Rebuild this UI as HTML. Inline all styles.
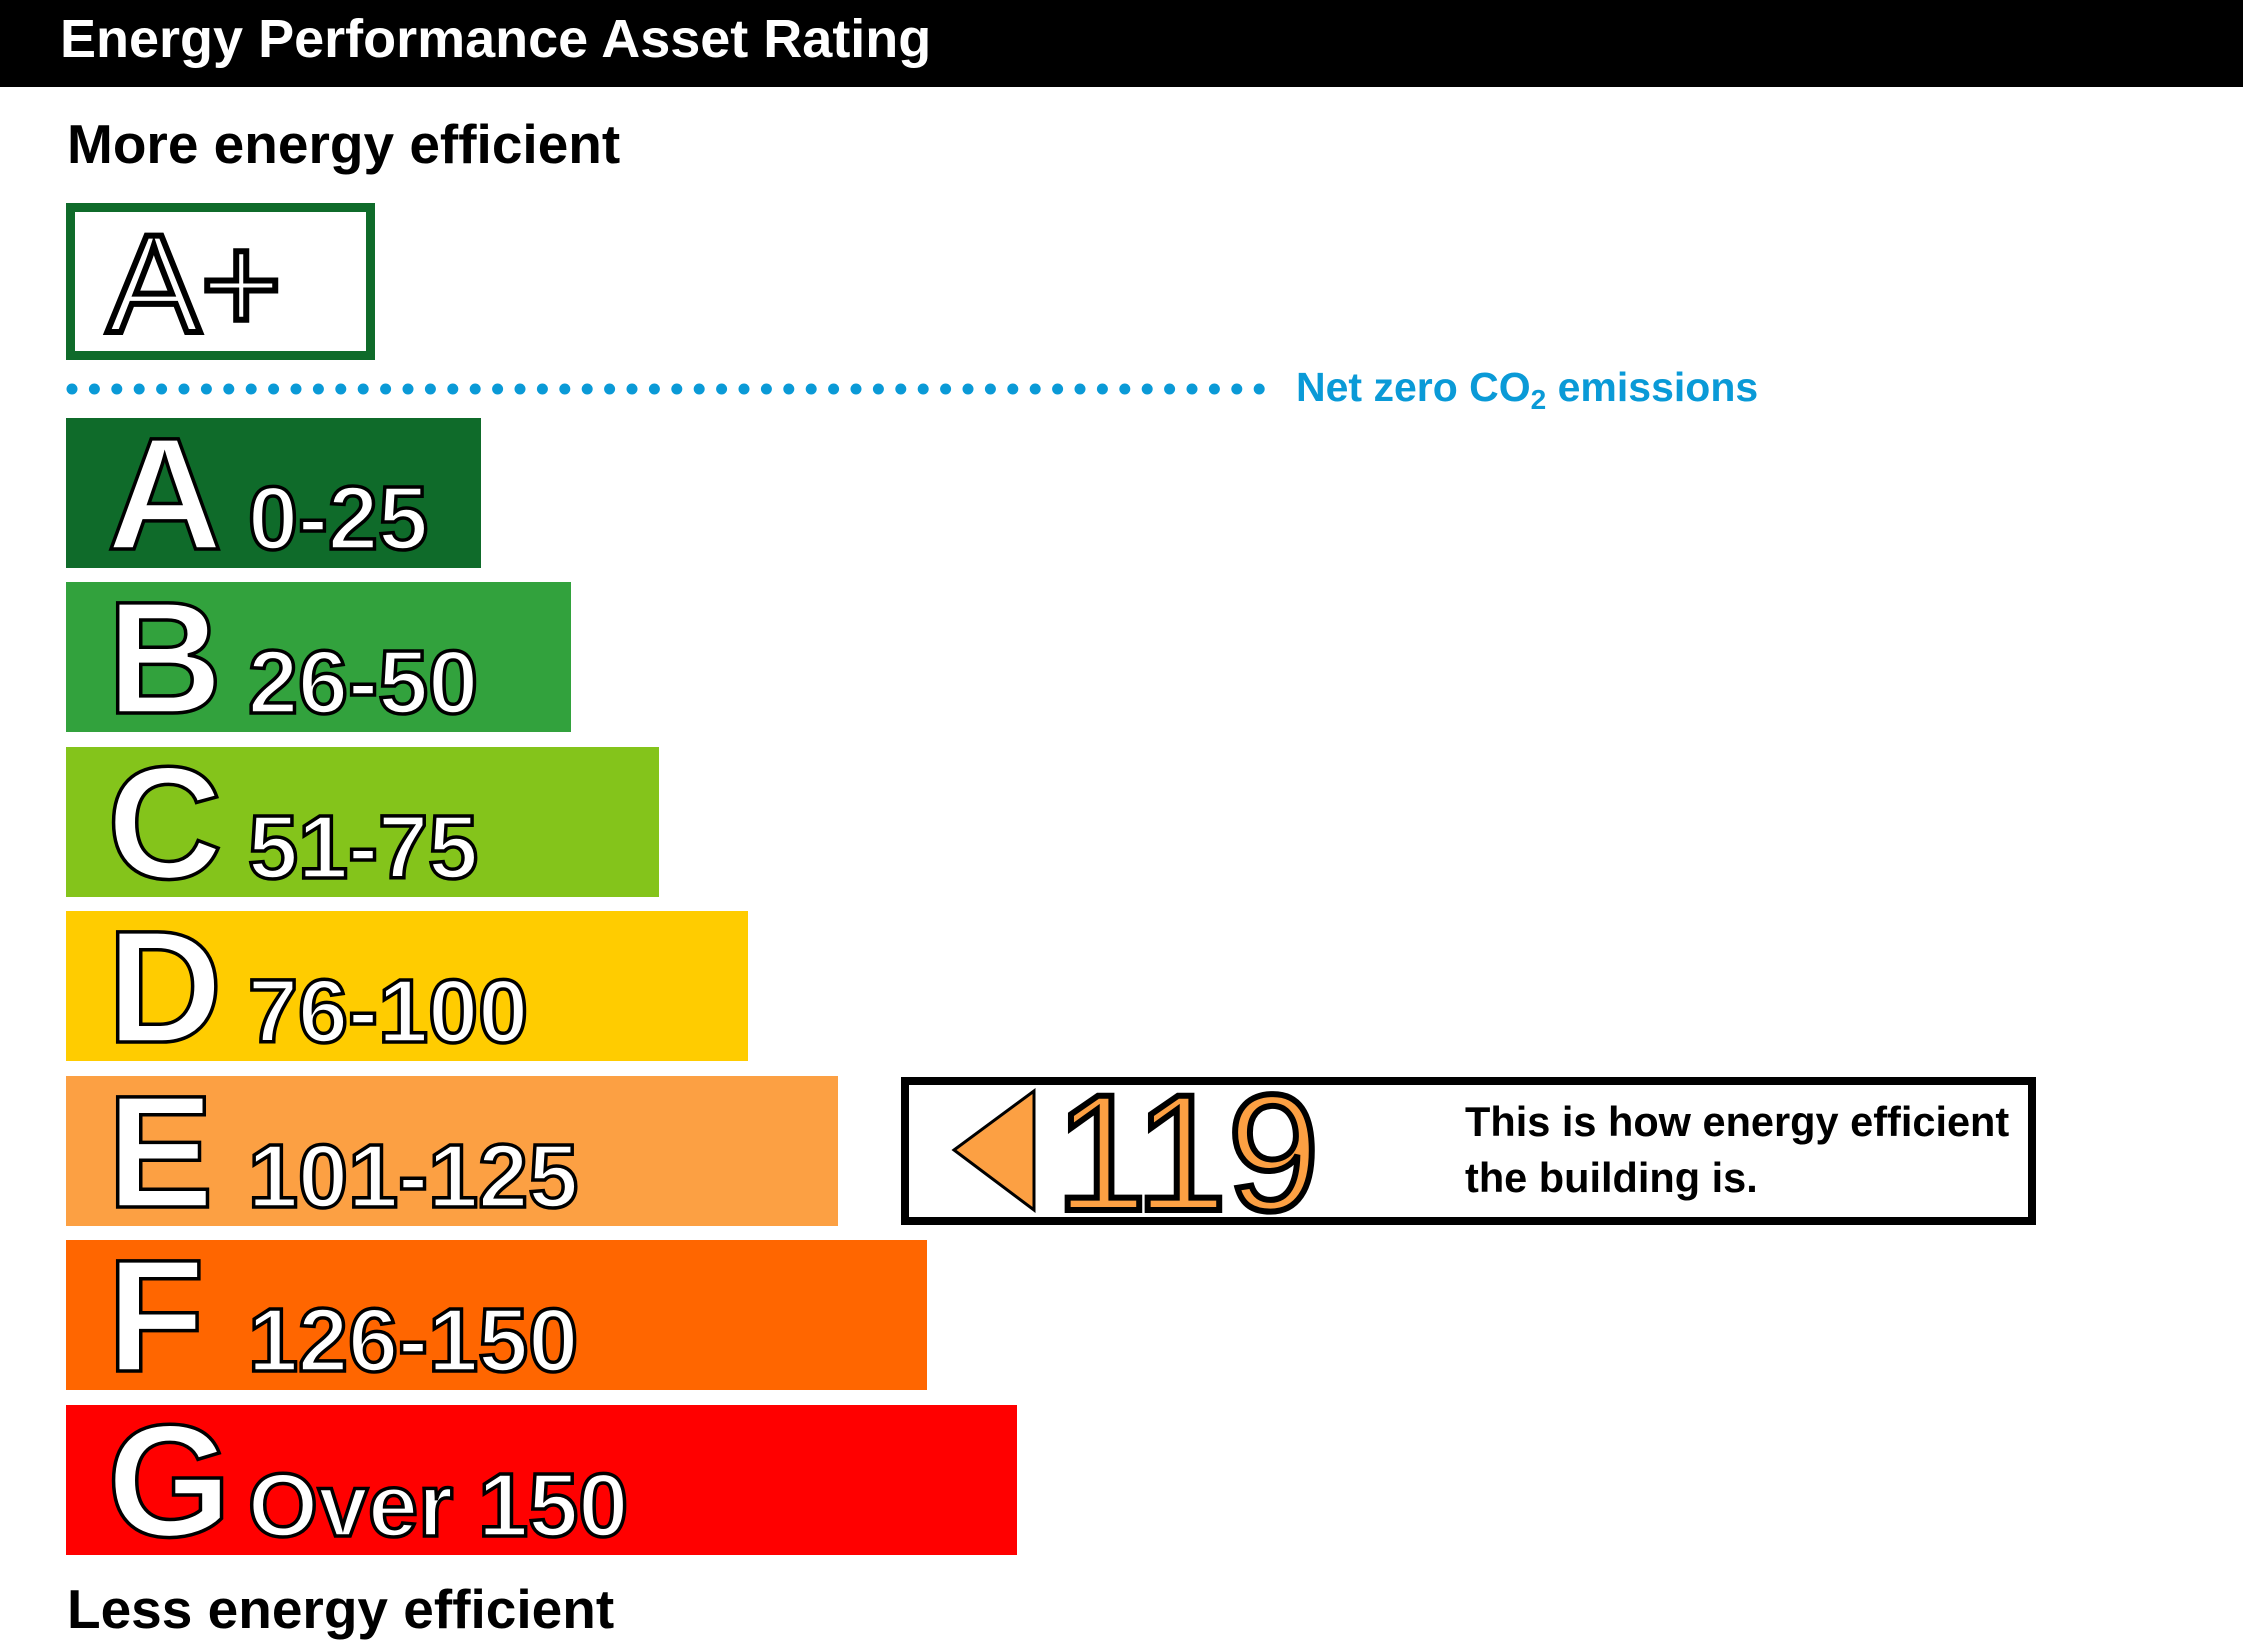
<!DOCTYPE html>
<html><head><meta charset="utf-8"><style>
html,body{margin:0;padding:0;background:#fff;}
svg{display:block;}
text{font-family:"Liberation Sans",Arial,sans-serif;}
</style></head><body>
<svg width="2243" height="1648" viewBox="0 0 2243 1648" xmlns="http://www.w3.org/2000/svg">
<rect x="0" y="0" width="2243" height="87" fill="#000"/>
<text x="60" y="57" font-size="54" font-weight="bold" fill="#fff">Energy Performance Asset Rating</text>
<text x="67" y="163" font-size="55" font-weight="bold" fill="#000">More energy efficient</text>
<rect x="70.5" y="207.5" width="300" height="148" fill="#fff" stroke="#0f6b2a" stroke-width="9"/>
<text x="107" y="332" font-size="140" fill="#fff" stroke="#000" stroke-width="6">A+</text>
<line x1="72" y1="389" x2="1262" y2="389" stroke="#0a9ad7" stroke-width="11" stroke-linecap="round" stroke-dasharray="0 22.4"/>
<text x="1296" y="401" font-size="41" font-weight="bold" fill="#0a9ad7">Net zero CO<tspan font-size="28" dy="8">2</tspan><tspan dy="-8"> emissions</tspan></text>
<rect x="66" y="418" width="415" height="150" fill="#0f6b2a"/>
<rect x="66" y="582" width="505" height="150" fill="#32a23d"/>
<rect x="66" y="747" width="593" height="150" fill="#84c41b"/>
<rect x="66" y="911" width="682" height="150" fill="#ffcc00"/>
<rect x="66" y="1076" width="772" height="150" fill="#fca043"/>
<rect x="66" y="1240" width="861" height="150" fill="#ff6600"/>
<rect x="66" y="1405" width="951" height="150" fill="#ff0000"/>
<g fill="#fff" stroke="#000" stroke-width="3.5" font-weight="bold">
<text x="107" y="549" font-size="160">A</text><text x="248" y="549" font-size="90">0-25</text>
<text x="107" y="713" font-size="160">B</text><text x="248" y="713" font-size="90">26-50</text>
<text x="107" y="878" font-size="160">C</text><text x="248" y="878" font-size="90">51-75</text>
<text x="107" y="1042" font-size="160">D</text><text x="248" y="1042" font-size="90">76-100</text>
<text x="107" y="1207" font-size="160">E</text><text x="248" y="1207" font-size="90">101-125</text>
<text x="107" y="1371" font-size="160">F</text><text x="248" y="1371" font-size="90">126-150</text>
<text x="107" y="1536" font-size="160">G</text><text x="248" y="1536" font-size="90">Over 150</text>
</g>
<rect x="905" y="1081" width="1127" height="140" fill="#fff" stroke="#000" stroke-width="8"/>
<polygon points="954,1150 1034,1091 1034,1210" fill="#fca043" stroke="#000" stroke-width="3"/>
<text x="1055" y="1210" font-size="166" fill="#fca043" stroke="#000" stroke-width="6">119</text>
<text x="1465" y="1136" font-size="41.5" font-weight="bold" fill="#000">This is how energy efficient</text>
<text x="1465" y="1192" font-size="41.5" font-weight="bold" fill="#000">the building is.</text>
<text x="67" y="1628" font-size="55" font-weight="bold" fill="#000">Less energy efficient</text>
</svg>
</body></html>
